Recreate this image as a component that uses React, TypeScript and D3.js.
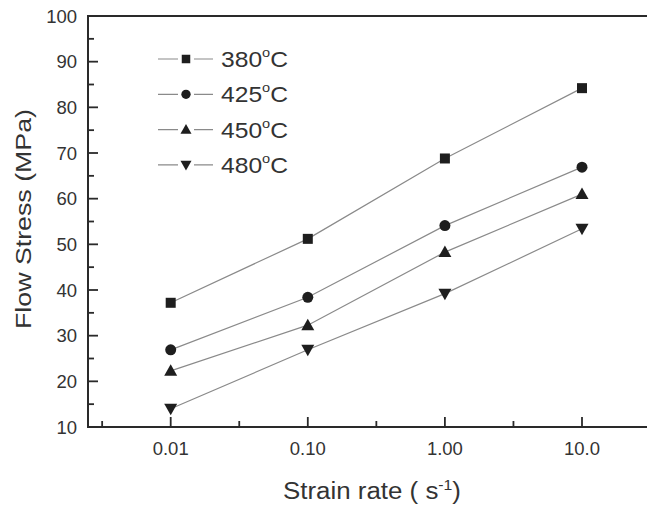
import React from "react";
import * as d3 from "d3";

const strainRates = [0.01, 0.1, 1, 10];
const xTickLabels = ["0.01", "0.10", "1.00", "10.0"];
const xMinorTicks = [0.01 / Math.sqrt(10), 0.1 / Math.sqrt(10), 1 / Math.sqrt(10), 10 / Math.sqrt(10)];
const yMajorTicks = [10, 20, 30, 40, 50, 60, 70, 80, 90, 100];
const yMinorTicks = [15, 25, 35, 45, 55, 65, 75, 85, 95];

const seriesNames = ["380", "425", "450", "480"];
const s380 = [37.2, 51.2, 68.8, 84.2];
const s425 = [26.9, 38.4, 54.1, 66.9];
const s450 = [22.3, 32.3, 48.3, 61.0];
const s480 = [14.0, 26.9, 39.2, 53.4];
const seriesValues = [s380, s425, s450, s480];
const symbols = ["square", "circle", "triangle", "triangleDown"];

const W = 647;
const H = 507;
const left = 88;
const right = 647;
const top = 16;
const bottom = 427;

const x = d3.scaleLog().domain([0.01, 10]).range([170.7, 582]);
const y = d3.scaleLinear().domain([10, 100]).range([bottom, top]);

const AX = "#2a2a2a";
const TXT = "#333";
const LINE = "#8a8a8a";
const MK = "#1e1e1e";

function Marker({ type, cx, cy, s = 1 }: { type: string; cx: number; cy: number; s?: number }) {
  if (type === "square") return <rect x={cx - 5 * s} y={cy - 5 * s} width={10 * s} height={10 * s} fill={MK} />;
  if (type === "circle") return <circle cx={cx} cy={cy} r={5.5 * s} fill={MK} />;
  if (type === "triangle")
    return (
      <path d={`M${cx},${cy - 6.5 * s} L${cx + 6.5 * s},${cy + 5 * s} L${cx - 6.5 * s},${cy + 5 * s} Z`} fill={MK} />
    );
  return (
    <path d={`M${cx},${cy + 6.5 * s} L${cx + 6.5 * s},${cy - 5 * s} L${cx - 6.5 * s},${cy - 5 * s} Z`} fill={MK} />
  );
}

export default function App() {
  const line = d3
    .line<number>()
    .x((_, i) => x(strainRates[i]))
    .y((d) => y(d));
  const font = "'Liberation Sans', Arial, sans-serif";
  return (
    <svg
      width={W}
      height={H}
      style={{ position: "absolute", left: 0, top: 0, background: "#fff" }}
      fontFamily={font}
    >
      <rect x={0} y={0} width={W} height={H} fill="#fff" />
      {seriesValues.map((vals, i) => (
        <path key={"l" + i} d={line(vals) || ""} fill="none" stroke={LINE} strokeWidth={1.2} />
      ))}
      {seriesValues.map((vals, i) =>
        vals.map((v, j) => <Marker key={`m${i}-${j}`} type={symbols[i]} cx={x(strainRates[j])} cy={y(v)} />)
      )}
      <line x1={left} x2={right} y1={top} y2={top} stroke={AX} strokeWidth={2} />
      <line x1={left} x2={left} y1={top - 1} y2={bottom + 1} stroke={AX} strokeWidth={2} />
      <line x1={left} x2={right} y1={bottom} y2={bottom} stroke={AX} strokeWidth={2} />
      {yMajorTicks.map((t) => (
        <g key={"ym" + t}>
          <line x1={left} x2={left + 10} y1={y(t)} y2={y(t)} stroke={AX} strokeWidth={1.8} />
          <text x={77} y={y(t)} dy="0.36em" textAnchor="end" fontSize={18.5} fill={TXT}>
            {t}
          </text>
        </g>
      ))}
      {yMinorTicks.map((t) => (
        <line key={"yn" + t} x1={left} x2={left + 6} y1={y(t)} y2={y(t)} stroke={AX} strokeWidth={1.8} />
      ))}
      {strainRates.map((t, i) => (
        <g key={"xm" + t}>
          <line x1={x(t)} x2={x(t)} y1={bottom} y2={bottom - 10} stroke={AX} strokeWidth={1.8} />
          <text x={x(t)} y={455} textAnchor="middle" fontSize={18.5} fill={TXT}>
            {xTickLabels[i]}
          </text>
        </g>
      ))}
      {xMinorTicks.map((t) => (
        <line key={"xn" + t} x1={x(t)} x2={x(t)} y1={bottom} y2={bottom - 6} stroke={AX} strokeWidth={1.8} />
      ))}
      <text x={283} y={499} textAnchor="start" fontSize={23} fill={TXT} textLength={178} lengthAdjust="spacingAndGlyphs">
        Strain rate ( s
        <tspan dy={-9} fontSize={14}>
          -1
        </tspan>
        <tspan dy={9}>)</tspan>
      </text>
      <text
        transform={`translate(31, 219) rotate(-90)`}
        x={-110}
        textAnchor="start"
        fontSize={22}
        fill={TXT}
        textLength={220}
        lengthAdjust="spacingAndGlyphs"
      >
        Flow Stress (MPa)
      </text>
      {seriesNames.map((n, i) => {
        const ly = 59 + i * 35.3;
        return (
          <g key={"lg" + n}>
            <line x1={158} x2={213} y1={ly} y2={ly} stroke={LINE} strokeWidth={1.2} />
            <rect x={178} y={ly - 7} width={16} height={14} fill="#fff" />
            <Marker type={symbols[i]} cx={186} cy={ly} s={0.85} />
            <text
              x={221}
              y={ly}
              dy="0.36em"
              fontSize={22}
              fill={TXT}
              textLength={67}
              lengthAdjust="spacingAndGlyphs"
            >
              {n}
              <tspan dy={-10} fontSize={13}>
                o
              </tspan>
              <tspan dy={10}>C</tspan>
            </text>
          </g>
        );
      })}
    </svg>
  );
}
